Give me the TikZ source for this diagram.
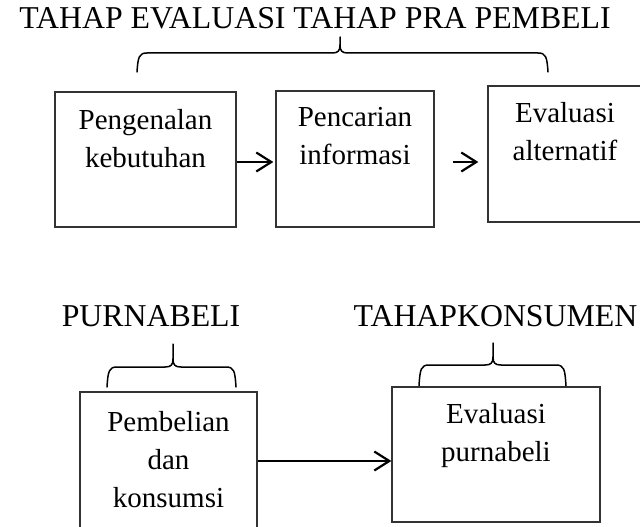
\documentclass[tikz,border=0pt]{standalone}
\usepackage{fontspec}
\setmainfont{Liberation Serif}
\usetikzlibrary{arrows.meta}
\newcommand{\mybrace}[6]{%
  \draw[bracel] (#1,#6) .. controls (#1+1,#5+4) and (#1+2,#5) .. (#1+10,#5)
    -- (#3-8,#5) .. controls (#3-2,#5) and (#3,#5-2) .. (#3,#5-8) -- (#3,#4);
  \draw[bracel] (#2,#6) .. controls (#2-1,#5+4) and (#2-2,#5) .. (#2-10,#5)
    -- (#3+8,#5) .. controls (#3+2,#5) and (#3,#5-2) .. (#3,#5-8);
}
\begin{document}
\begin{tikzpicture}[x=1pt,y=-1pt,
  box/.style={draw=black!80, line width=1.3pt, inner sep=0pt},
  boxtxt/.style={anchor=base, inner sep=0pt, font=\fontsize{29}{38}\selectfont},
  head/.style={anchor=base, inner sep=0pt, font=\fontsize{31.8}{38}\selectfont},
  bracel/.style={line width=1.5pt, line cap=round, line join=round},
  arr/.style={line width=2.2pt, -{Straight Barb[length=15pt,width=19pt,line width=2.2pt]}}]
\useasboundingbox (0,0) rectangle (640,527);
\clip (0,0) rectangle (640,527);

% headings
\node[head] (title) at (315,29) {TAHAP EVALUASI TAHAP PRA PEMBELI};
\node[head] (purna) at (151,326) {PURNABELI};
\node[head] (tahapk) at (495.5,326) {TAHAPKONSUMEN};

% braces
\mybrace{137}{548}{340}{37}{53}{72}
\mybrace{107}{236}{173}{344}{367}{387}
\mybrace{419}{566}{493}{343}{365}{386}

% boxes
\node[box, minimum width=181pt, minimum height=135pt] (b1) at (145.5,159.5) {};
\node[box, minimum width=158pt, minimum height=136pt] (b2) at (355,159) {};
\node[box, minimum width=154pt, minimum height=136pt] (b3) at (565,154) {};
\node[box, minimum width=177pt, minimum height=136pt] (b4) at (168.5,460) {};
\node[box, minimum width=208pt, minimum height=135pt] (b5) at (496,454.5) {};

% box texts
\node[boxtxt] (t1) at (145.5,129) {\parbox[t]{170pt}{\centering Pengenalan\\kebutuhan}};
\node[boxtxt] (t2) at (355,126) {\parbox[t]{150pt}{\centering Pencarian\\informasi}};
\node[boxtxt] (t3) at (565,122) {\parbox[t]{150pt}{\centering Evaluasi\\alternatif}};
\node[boxtxt] (t4) at (168.5,431) {\parbox[t]{170pt}{\centering Pembelian\\dan\\konsumsi}};
\node[boxtxt] (t5) at (496,423) {\parbox[t]{200pt}{\centering Evaluasi\\purnabeli}};

% arrows
\draw[arr] ([yshift=-2.5pt]b1.east) -- ([xshift=-2pt,yshift=-3pt]b2.west);
\draw[arr] ([xshift=18pt,yshift=-3pt]b2.east) -- ([xshift=-9pt,yshift=-8pt]b3.west);
\draw[arr] ([yshift=-1pt]b4.east) -- ([yshift=-6.5pt]b5.west);
\end{tikzpicture}
\end{document}
